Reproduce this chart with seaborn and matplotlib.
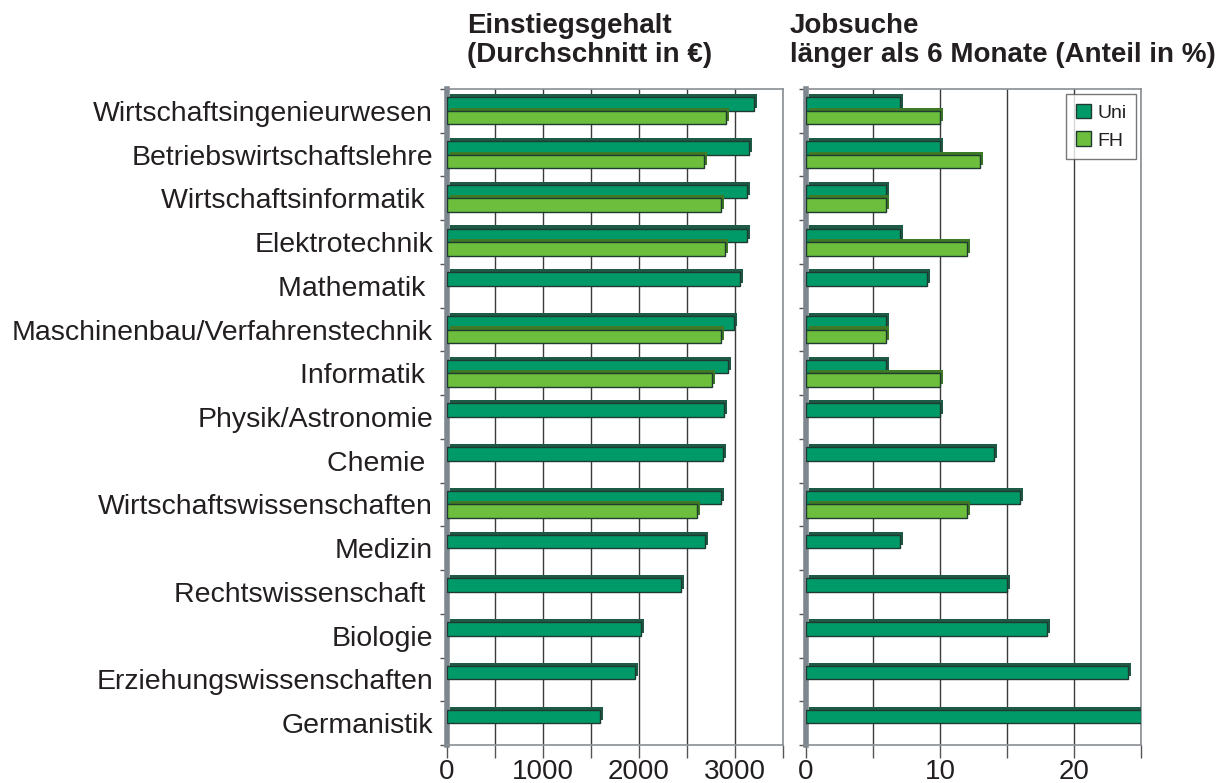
import numpy as np
import pandas as pd
import seaborn as sns
import matplotlib.pyplot as plt
import matplotlib.patheffects as pe

faecher = ['Wirtschaftsingenieurwesen', 'Betriebswirtschaftslehre', 'Wirtschaftsinformatik ',
           'Elektrotechnik', 'Mathematik ', 'Maschinenbau/Verfahrenstechnik', 'Informatik ',
           'Physik/Astronomie', 'Chemie ', 'Wirtschaftswissenschaften', 'Medizin',
           'Rechtswissenschaft ', 'Biologie', 'Erziehungswissenschaften', 'Germanistik']

gehalt_uni = [3200, 3150, 3120, 3120, 3050, 2990, 2930, 2890, 2870, 2850, 2690, 2440, 2020, 1960, 1590]
gehalt_fh = [2910, 2680, 2850, 2900, np.nan, 2850, 2760, np.nan, np.nan, 2600, np.nan, np.nan, np.nan, np.nan, np.nan]

jobsuche_uni = [7, 10, 6, 7, 9, 6, 6, 10, 14, 16, 7, 15, 18, 24, 25]
jobsuche_fh = [10, 13, 6, 12, np.nan, 6, 10, np.nan, np.nan, 12, np.nan, np.nan, np.nan, np.nan, np.nan]

abschluesse = ['Uni', 'FH']
farben = {'Uni': '#009A68', 'FH': '#6CBE3C'}
schatten = {'Uni': '#1E5A45', 'FH': '#3F7A27'}

df = pd.DataFrame({
    'Fach': faecher * 2,
    'Abschluss': ['Uni'] * len(faecher) + ['FH'] * len(faecher),
    'Gehalt': gehalt_uni + gehalt_fh,
    'Jobsuche': jobsuche_uni + jobsuche_fh,
})

sns.set_theme(style='white')
plt.rcParams['font.family'] = ['Liberation Sans', 'DejaVu Sans']
textfarbe = '#231F20'

fig = plt.figure(figsize=(12.28, 7.83), dpi=100)
ax1 = fig.add_axes([447 / 1228, 1 - 745 / 783, 336 / 1228, 656 / 783])
ax2 = fig.add_axes([806 / 1228, 1 - 745 / 783, 335 / 1228, 656 / 783])

def panel(ax, spalte, xmax, step, labels):
    sns.barplot(data=df, y='Fach', x=spalte, hue='Abschluss', hue_order=abschluesse,
                palette=farben, saturation=1, orient='h', errorbar=None, width=0.62, order=faecher,
                edgecolor='#1F3A30', linewidth=1.0, ax=ax, zorder=3)
    # 3D-artige Tiefe über Schatten
    for cont, name in zip(ax.containers, abschluesse):
        for bar in cont:
            bar.set_path_effects([pe.SimplePatchShadow(offset=(2.2, 2.2), shadow_rgbFace=schatten[name], alpha=1),
                                  pe.Normal()])
    ax.set_xlim(0, xmax)
    ax.set_ylim(len(faecher) - 0.5, -0.5)
    ax.set_xticks(np.arange(0, xmax + 1, step))
    ax.set_xticklabels([str(v) if v in labels else '' for v in np.arange(0, xmax + 1, step)])
    ax.xaxis.grid(True, color='#3A3A3A', linewidth=1.0, zorder=0)
    ax.yaxis.grid(False)
    ax.set_xlabel('')
    ax.set_ylabel('')
    ax.tick_params(axis='x', length=9, width=1, color='#555555', labelsize=20, labelcolor=textfarbe, pad=1, bottom=True)
    ax.set_yticks(np.arange(-0.5, len(faecher), 1.0), minor=True)
    ax.tick_params(axis='y', which='major', length=0, labelsize=20.5, labelcolor=textfarbe, pad=10)
    ax.tick_params(axis='y', which='minor', length=5, width=1, color='#555555', left=True)
    for s in ['top', 'right', 'bottom']:
        ax.spines[s].set_color('#8A8F94')
        ax.spines[s].set_linewidth(1.2)
    ax.spines['left'].set_color('#7E878F')
    ax.spines['left'].set_linewidth(4)

panel(ax1, 'Gehalt', 3500, 500, [0, 1000, 2000, 3000])
panel(ax2, 'Jobsuche', 25, 5, [0, 10, 20])
ax2.set_yticklabels([])

ax1.get_legend().remove()
leg = ax2.legend(loc='upper right', fontsize=14, frameon=True, fancybox=False,
                 handlelength=0.8, handleheight=0.8, handletextpad=0.3,
                 borderaxespad=0.25, borderpad=0.5, labelspacing=0.5)
leg.get_frame().set_edgecolor('#555555')
leg.get_frame().set_linewidth(1.0)
for t in leg.get_texts():
    t.set_color(textfarbe)

fig.text(467 / 1228, 1 - 13 / 783, 'Einstiegsgehalt\n(Durchschnitt in €)', ha='left', va='top',
         fontsize=20, fontweight='bold', color=textfarbe, linespacing=1.15)
fig.text(790 / 1228, 1 - 13 / 783, 'Jobsuche\nlänger als 6 Monate (Anteil in %)', ha='left', va='top',
         fontsize=20, fontweight='bold', color=textfarbe, linespacing=1.15)

fig.savefig('out.png', dpi=100)
